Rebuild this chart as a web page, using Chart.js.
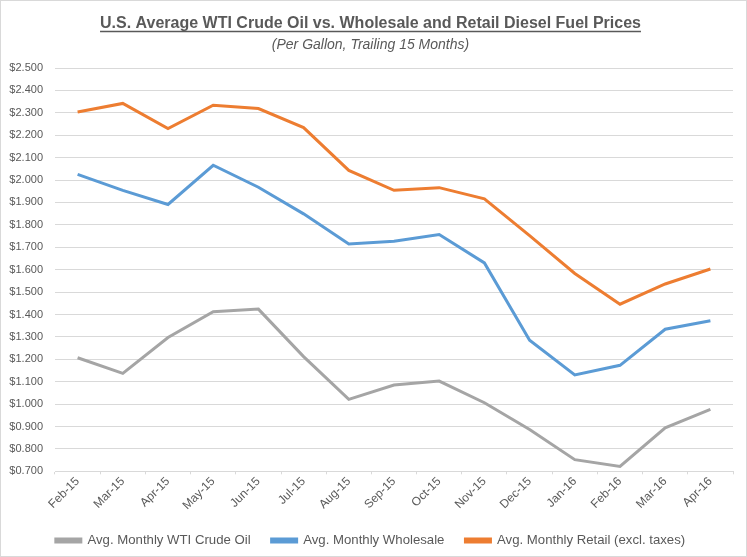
<!DOCTYPE html>
<html>
<head>
<meta charset="utf-8">
<script src="https://cdn.jsdelivr.net/npm/chart.js@4.4.0/dist/chart.umd.min.js"></script>
<style>
  html, body { margin: 0; padding: 0; background: #fff; }
  #wrap { width: 747px; height: 557px; }
</style>
</head>
<body>
<div id="wrap"><canvas id="chart"></canvas></div>
<script>
// Podaci
const months = ['Feb-15', 'Mar-15', 'Apr-15', 'May-15', 'Jun-15', 'Jul-15', 'Aug-15', 'Sep-15',
                'Oct-15', 'Nov-15', 'Dec-15', 'Jan-16', 'Feb-16', 'Mar-16', 'Apr-16'];
const crudeOil = [1.207, 1.137, 1.297, 1.412, 1.424, 1.212, 1.021, 1.085,
                  1.103, 1.006, 0.887, 0.752, 0.722, 0.894, 0.976];
const wholesale = [2.025, 1.954, 1.891, 2.066, 1.968, 1.849, 1.715, 1.727,
                   1.757, 1.630, 1.285, 1.130, 1.173, 1.334, 1.372];
const retail = [2.304, 2.342, 2.230, 2.334, 2.319, 2.234, 2.043, 1.954,
                1.966, 1.916, 1.752, 1.583, 1.446, 1.536, 1.603];

const FONT = "'Liberation Sans', Arial, sans-serif";
const TEXT = '#595959';
const TITLE_SIZE = 16;

// Podcrtani naslov i okvir
const decorPlugin = {
    id: 'decor',
    afterDraw(chart) {
        const ctx = chart.ctx;
        ctx.save();
        ctx.strokeStyle = '#d9d9d9';
        ctx.lineWidth = 1;
        ctx.strokeRect(0.5, 0.5, chart.width - 1, chart.height - 1);

        const t = chart.titleBlock;
        if (t) {
            ctx.font = 'bold ' + TITLE_SIZE + 'px ' + FONT;
            const w = ctx.measureText(t.options.text).width;
            const cx = (t.left + t.right) / 2;
            const y = t.top + t.options.padding.top + TITLE_SIZE + 1.5;
            ctx.strokeStyle = TEXT;
            ctx.lineWidth = 1.5;
            ctx.beginPath();
            ctx.moveTo(cx - w / 2, y);
            ctx.lineTo(cx + w / 2, y);
            ctx.stroke();
        }
        ctx.restore();
    }
};

function series(label, data, color) {
    return {
        label: label,
        data: data,
        borderColor: color,
        backgroundColor: color,
        borderWidth: 3,
        pointRadius: 0,
        tension: 0
    };
}

new Chart(document.getElementById('chart'), {
    type: 'line',
    data: {
        labels: months,
        datasets: [
            series('Avg. Monthly WTI Crude Oil', crudeOil, '#a5a5a5'),
            series('Avg. Monthly Wholesale', wholesale, '#5b9bd5'),
            series('Avg. Monthly Retail (excl. taxes)', retail, '#ed7d31')
        ]
    },
    options: {
        responsive: true,
        maintainAspectRatio: false,
        animation: false,
        layout: { padding: { left: 8, right: 14, top: 0, bottom: 0 } },
        plugins: {
            title: {
                display: true,
                text: 'U.S. Average WTI Crude Oil vs. Wholesale and Retail Diesel Fuel Prices',
                color: TEXT,
                font: { family: FONT, size: TITLE_SIZE, weight: 'bold' },
                padding: { top: 14, bottom: 2 }
            },
            subtitle: {
                display: true,
                text: '(Per Gallon, Trailing 15 Months)',
                color: TEXT,
                font: { family: FONT, size: 14, style: 'italic' },
                padding: { top: 2, bottom: 14 }
            },
            legend: {
                position: 'bottom',
                labels: {
                    color: TEXT,
                    font: { family: FONT, size: 13.2 },
                    boxWidth: 25,
                    boxHeight: 3,
                    padding: 21
                }
            },
            tooltip: { enabled: false }
        },
        scales: {
            x: {
                offset: true,
                afterFit(scale) {
                    // rotirane oznake ne smiju gurati os udesno
                    scale.paddingLeft = 0;
                    scale.paddingRight = 0;
                },
                grid: {
                    display: true,
                    offset: true,
                    drawOnChartArea: false,
                    color: '#d9d9d9',
                    tickLength: 3
                },
                border: { color: '#d9d9d9' },
                ticks: {
                    color: TEXT,
                    font: { family: FONT, size: 12 },
                    minRotation: 45,
                    maxRotation: 45,
                    padding: 0
                }
            },
            y: {
                min: 0.7,
                max: 2.5,
                afterFit(scale) {
                    scale.width = 47;
                },
                grid: { color: '#d9d9d9', tickLength: 0 },
                border: { display: false },
                ticks: {
                    stepSize: 0.1,
                    color: TEXT,
                    font: { family: FONT, size: 11 },
                    padding: 12,
                    callback: v => '$' + v.toFixed(3)
                }
            }
        }
    },
    plugins: [decorPlugin]
});
</script>
</body>
</html>
